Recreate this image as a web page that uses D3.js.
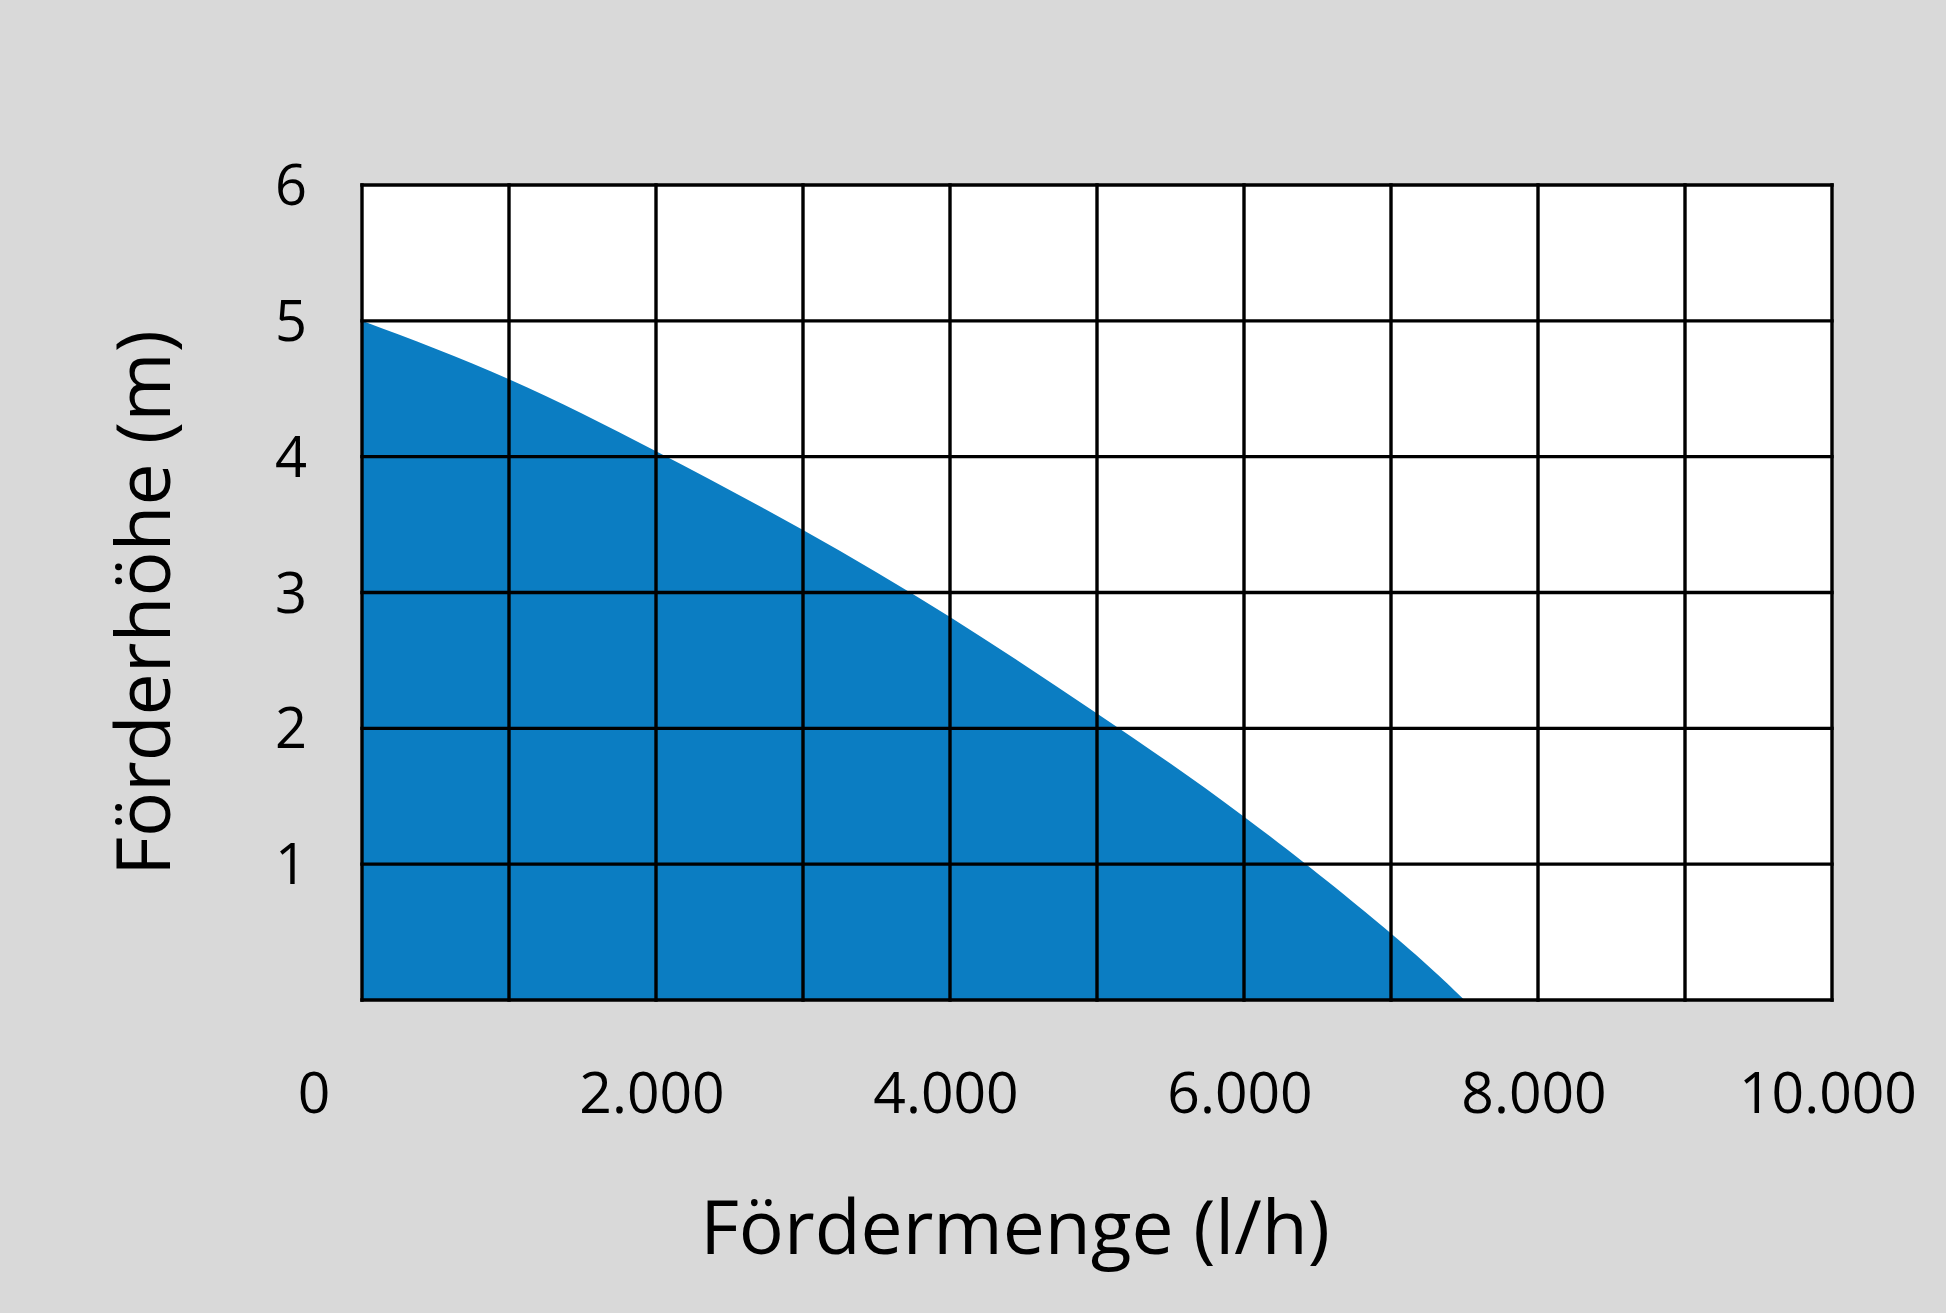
<!DOCTYPE html>
<html>
<head>
<meta charset="utf-8">
<script src="https://cdn.jsdelivr.net/npm/d3@7"></script>
<style>
  html, body { margin: 0; padding: 0; background: #d9d9d9; }
  svg { display: block; }
  text { font-family: "Open Sans", sans-serif; fill: #000; }
</style>
</head>
<body>
<script>
// Data (Fördermenge l/h vs Förderhöhe m)
const flow   = [0, 1000, 2000, 3000, 4000, 5000, 6000, 7000, 7500];
const height = [5, 4.57, 4.04, 3.46, 2.82, 2.11, 1.35, 0.49, 0];
const xGridValues = [0,1000,2000,3000,4000,5000,6000,7000,8000,9000,10000];
const yGridValues = [0,1,2,3,4,5,6];
const xTickValues = [0, 2000, 4000, 6000, 8000, 10000];
const xTickLabels = ["0", "2.000", "4.000", "6.000", "8.000", "10.000"];
const yTickValues = [1, 2, 3, 4, 5, 6];
const yTickLabels = ["1", "2", "3", "4", "5", "6"];
const xTitle = "Fördermenge (l/h)";
const yTitle = "Förderhöhe (m)";

const W = 1946, H = 1313;
const plot = { left: 362, right: 1832, top: 185, bottom: 1000 };

const svg = d3.select("body").append("svg").attr("width", W).attr("height", H);
svg.append("rect").attr("width", W).attr("height", H).attr("fill", "#d9d9d9");

const x = d3.scaleLinear().domain([0, 10000]).range([plot.left, plot.right]);
const y = d3.scaleLinear().domain([0, 6]).range([plot.bottom, plot.top]);

// white plot background
svg.append("rect")
  .attr("x", x(0)).attr("y", y(6))
  .attr("width", x(10000) - x(0)).attr("height", y(0) - y(6))
  .attr("fill", "#ffffff");

// filled area
const data = flow.map((q, i) => ({ q, h: height[i] }));
const area = d3.area()
  .x(d => x(d.q))
  .y0(y(0))
  .y1(d => y(d.h))
  .curve(d3.curveNatural);
svg.append("path").datum(data).attr("d", area).attr("fill", "#0b7dc2");

// grid
const grid = svg.append("g").attr("stroke", "#000").attr("stroke-width", 3.4);
grid.selectAll("line.v").data(xGridValues).join("line").attr("class", "v")
  .attr("x1", d => x(d)).attr("x2", d => x(d))
  .attr("y1", y(6) - 1.7).attr("y2", y(0) + 1.7);
grid.selectAll("line.h").data(yGridValues).join("line").attr("class", "h")
  .attr("y1", d => y(d)).attr("y2", d => y(d))
  .attr("x1", x(0) - 1.7).attr("x2", x(10000) + 1.7);

// y tick labels
svg.append("g").selectAll("text").data(yTickValues).join("text")
  .attr("x", x(0) - 71)
  .attr("y", d => y(d))
  .attr("dy", "0.36em")
  .attr("text-anchor", "middle")
  .style("font-size", "56px")
  .text((d, i) => yTickLabels[i]);

// x tick labels
svg.append("g").selectAll("text").data(xTickValues).join("text")
  .attr("x", d => x(d))
  .attr("dx", (d, i) => i === 0 ? -48 : -4)
  .attr("y", 1113)
  .attr("text-anchor", "middle")
  .style("font-size", "57px")
  .text((d, i) => xTickLabels[i]);

// axis titles
svg.append("text")
  .attr("x", 1015).attr("y", 1254)
  .attr("text-anchor", "middle")
  .style("font-size", "75px")
  .text(xTitle);

svg.append("text")
  .attr("transform", "translate(170,603) rotate(-90)")
  .attr("text-anchor", "middle")
  .style("font-size", "75px")
  .text(yTitle);
</script>
</body>
</html>
